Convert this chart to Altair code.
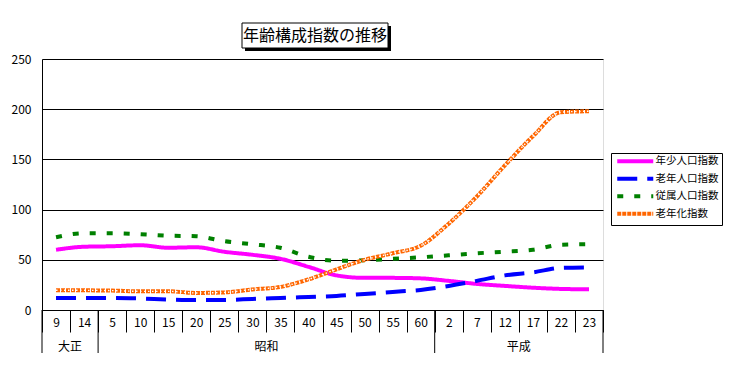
import altair as alt
import pandas as pd

# ---- data ----
categories = ["9", "14", "5", "10", "15", "20", "25", "30", "35", "40",
              "45", "50", "55", "60", "2", "7", "12", "17", "22", "23"]
eras = ["大正", "昭和", "平成"]
era_first = ["9", "5", "2"]
era_last = ["14", "60", "23"]

series_names = ["年少人口指数", "老年人口指数", "従属人口指数", "老年化指数"]
young = [60, 63, 63.5, 64.5, 62, 62.5, 58, 55, 51, 43,
         34.5, 32, 32, 31.5, 29, 26, 24, 22.2, 21, 20.6]
old = [12, 12, 12, 11.5, 10.5, 10, 10, 11, 12, 13,
       14, 16, 18, 20, 24, 29, 34.5, 37.5, 42, 42.5]
dependency = [72.5, 76.5, 76.5, 75.5, 74, 73.5, 68.5, 65.5, 62, 53,
              49, 49.5, 51, 52.5, 54.5, 56.5, 58, 60, 65, 65.5]
aging = [19.6, 19.6, 19.3, 18.6, 18.6, 17, 17.5, 20.5, 23, 30.5,
         40.5, 50, 56.5, 64, 86, 113, 144, 173, 197, 198]
y_ticks = [0, 50, 100, 150, 200, 250]
title_text = "年齢構成指数の推移"

# ---- styles ----
colors = ["#FF00FF", "#0000FF", "#008000", "#FF6600"]
dashes = [[1, 0], [20, 10], [6, 11], [4, 1]]
FONT = "Noto Sans CJK JP"

rows = []
for name, vals in zip(series_names, [young, old, dependency, aging]):
    for i, (c, v) in enumerate(zip(categories, vals)):
        rows.append({"series": name, "cat": c, "value": v, "idx": i})
df = pd.DataFrame(rows)

xscale = alt.Scale(type="band", domain=categories, paddingInner=0, paddingOuter=0)
yscale = alt.Scale(domain=[0, 250], nice=False, zero=True)

leg = alt.Legend(title=None, orient="none", legendX=569, legendY=94,
                 symbolType="M-1,0H17", symbolSize=16, symbolStrokeWidth=4,
                 labelFontSize=10.5, labelFont=FONT, labelColor="black",
                 labelOffset=31, padding=3, rowPadding=0.5,
                 strokeColor="black", fillColor="white")

x_axis = alt.Axis(title=None, tickBand="extent", tickSize=22, tickColor="black",
                  tickWidth=1, domainColor="black", labelAngle=0, labelPadding=-15,
                  labelFontSize=12, labelColor="black", labelFont=FONT, grid=False)
y_axis = alt.Axis(title=None, values=y_ticks, grid=True, gridColor="black",
                  gridWidth=1, gridOpacity=1, ticks=False, domainColor="black",
                  labelFontSize=12, labelPadding=11, labelColor="black", labelFont=FONT)

lines = alt.Chart(df).mark_line(strokeWidth=4, interpolate="monotone").encode(
    x=alt.X("cat:N", scale=xscale, sort=categories, axis=x_axis),
    y=alt.Y("value:Q", scale=yscale, axis=y_axis),
    color=alt.Color("series:N", scale=alt.Scale(domain=series_names, range=colors), legend=leg),
    strokeDash=alt.StrokeDash("series:N", scale=alt.Scale(domain=series_names, range=dashes), legend=leg),
    order=alt.Order("idx:Q"),
)

aging_overlay = alt.Chart(df[df["series"] == "老年化指数"]).mark_line(
    strokeWidth=1.4, interpolate="monotone", color="white", strokeDash=[1.5, 2.5]
).encode(
    x=alt.X("cat:N", scale=xscale, sort=categories),
    y=alt.Y("value:Q", scale=yscale),
    order=alt.Order("idx:Q"),
)

# era separators and labels
era_start_df = pd.DataFrame({"cat": era_first})
era_end_df = pd.DataFrame({"cat": [era_last[-1]]})
mid_cats = []
for f, l in zip(era_first, era_last):
    a, b = categories.index(f), categories.index(l)
    mid_cats.append(categories[(a + b + 1) // 2])
era_lab_df = pd.DataFrame({"cat": mid_cats, "era": eras})

era_rules_start = alt.Chart(era_start_df).mark_rule(color="black", strokeWidth=1).encode(
    x=alt.X("cat:N", scale=xscale, sort=categories, bandPosition=0),
    y=alt.value(251), y2=alt.value(294),
)
era_rules_end = alt.Chart(era_end_df).mark_rule(color="black", strokeWidth=1).encode(
    x=alt.X("cat:N", scale=xscale, sort=categories, bandPosition=1),
    y=alt.value(251), y2=alt.value(294),
)
era_text = alt.Chart(era_lab_df).mark_text(
    fontSize=12, font=FONT, color="black", baseline="middle", align="center"
).encode(
    x=alt.X("cat:N", scale=xscale, sort=categories, bandPosition=0),
    y=alt.value(288),
    text="era:N",
)

# title box
tdata = alt.Data(values=[{"t": title_text}])
shadow = alt.Chart(tdata).mark_rect(color="black").encode(
    x=alt.value(203), x2=alt.value(349), y=alt.value(-33), y2=alt.value(-8))
box = alt.Chart(tdata).mark_rect(fill="white", stroke="black", strokeWidth=1).encode(
    x=alt.value(200), x2=alt.value(346), y=alt.value(-36), y2=alt.value(-11))
ttext = alt.Chart(tdata).mark_text(fontSize=16, font=FONT, color="black",
                                   baseline="middle", align="center").encode(
    x=alt.value(273), y=alt.value(-23), text="t:N")

chart = alt.layer(
    lines, aging_overlay, era_rules_start, era_rules_end, era_text, shadow, box, ttext
).properties(
    width=561, height=251,
    autosize=alt.AutoSizeParams(type="none"),
    padding={"left": 34, "top": 51, "right": 122, "bottom": 45},
    background="white",
).configure_view(stroke="black", strokeWidth=1).configure(font=FONT)

chart.save("out.html", embed_options={"renderer": "svg", "actions": False})
